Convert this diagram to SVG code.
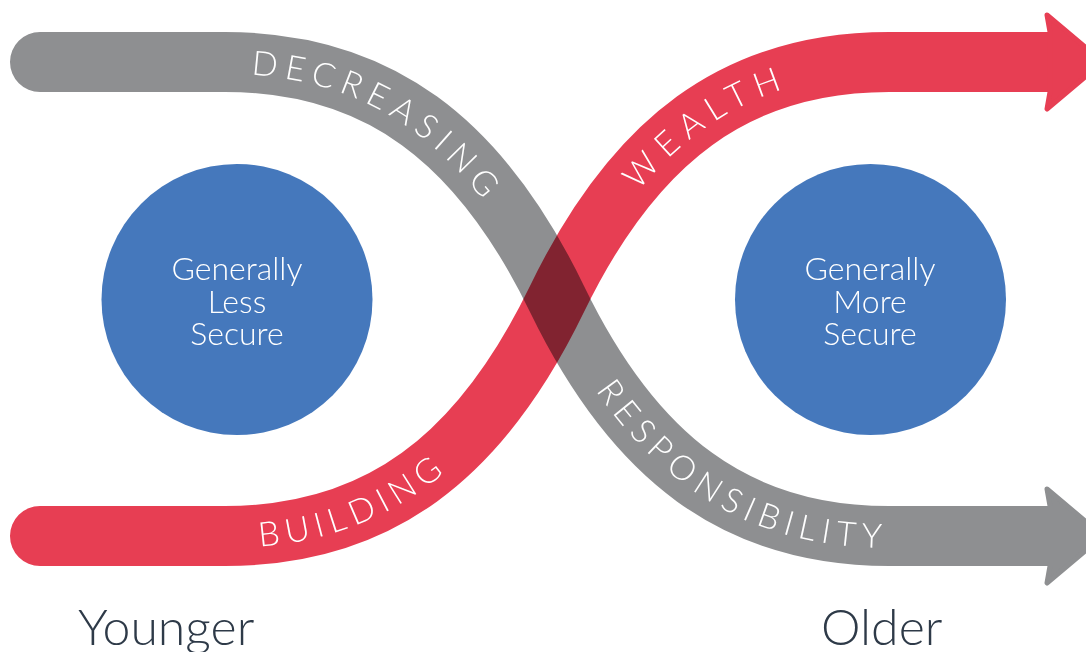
<svg xmlns="http://www.w3.org/2000/svg" width="1086" height="652" viewBox="0 0 1086 652">
<style>
.band{fill:none;stroke-width:60;stroke-linecap:round}
.gray{stroke:#8E8F91}
.red{stroke:#E73E53}
.blend{mix-blend-mode:multiply}
.head-gray{fill:#8E8F91;stroke:#8E8F91;stroke-width:5;stroke-linejoin:round}
.head-red{fill:#E73E53;stroke:#E73E53;stroke-width:5;stroke-linejoin:round}
.lbl{font-family:Lato,"Open Sans","Liberation Sans",sans-serif;font-weight:300;font-size:34px;fill:#FFFFFF}
.circ{fill:#4578BC}
.ctext{font-family:Lato,"Open Sans","Liberation Sans",sans-serif;font-weight:300;font-size:32px;fill:#FFFFFF;text-anchor:middle}
.age{font-family:Lato,"Open Sans","Liberation Sans",sans-serif;font-weight:300;font-size:50px;fill:#2E3A48}
</style>
<defs>
<path id="grayPath" d="M40,62 H225 C378,62 480,140 557,299 C634,458 736,536 889,536 H1048"/>
<path id="redPath" d="M40,536 H225 C378,536 480,458 557,299 C634,140 736,62 889,62 H1048"/>
</defs>
<g id="connectors">
<g id="gray-band">
<use href="#grayPath" class="band gray"/>
<path class="head-gray" d="M1050,506 L1047,489 L1103,536 L1047,583 L1050,566 Z"/>
</g>
<g id="red-band" class="blend">
<use href="#redPath" class="band red"/>
<path class="head-red" d="M1050,32 L1047,15 L1103,62 L1047,109 L1050,92 Z"/>
</g>
<text class="lbl" dy="12"><textPath href="#grayPath" startOffset="212" textLength="282" lengthAdjust="spacing">DECREASING</textPath></text>
<text class="lbl" dy="12"><textPath href="#grayPath" startOffset="716" textLength="330" lengthAdjust="spacing">RESPONSIBILITY</textPath></text>
<text class="lbl" dy="12"><textPath href="#redPath" startOffset="218" textLength="196" lengthAdjust="spacing">BUILDING</textPath></text>
<text class="lbl" dy="12"><textPath href="#redPath" startOffset="756" textLength="185" lengthAdjust="spacing">WEALTH</textPath></text>
</g>
<g id="node-less-secure">
<circle class="circ" cx="237" cy="299.5" r="135.5"/>
<text class="ctext" x="237" y="280">Generally</text>
<text class="ctext" x="237" y="313">Less</text>
<text class="ctext" x="237" y="345">Secure</text>
</g>
<g id="node-more-secure">
<circle class="circ" cx="870.5" cy="299.5" r="135.5"/>
<text class="ctext" x="870" y="280">Generally</text>
<text class="ctext" x="870" y="313">More</text>
<text class="ctext" x="870" y="345">Secure</text>
</g>
<g id="label-younger"><text class="age" x="78" y="645">Younger</text></g>
<g id="label-older"><text class="age" x="821" y="645">Older</text></g>
</svg>
